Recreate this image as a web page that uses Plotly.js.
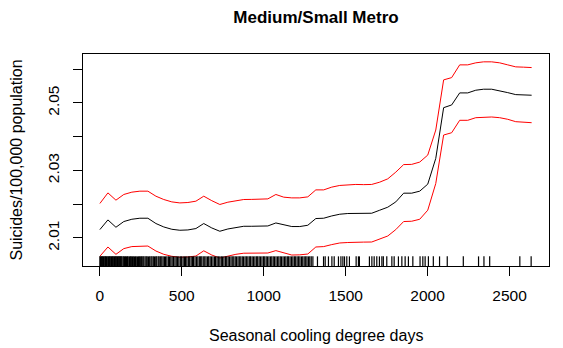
<!DOCTYPE html>
<html>
<head>
<meta charset="utf-8">
<script src="https://cdn.plot.ly/plotly-3.0.1.min.js"></script>
<style>html,body{margin:0;padding:0;background:#fff;}#chart{width:563px;height:348px;}</style>
</head>
<body>
<div id="chart"></div>
<script>
const cdd = [0, 49, 98, 146, 195, 244, 293, 342, 390, 439, 488, 537, 586, 634, 683, 732, 781, 830, 878, 927,
  976, 1025, 1074, 1122, 1171, 1220, 1269, 1318, 1366, 1415, 1464, 1513, 1562, 1610, 1659, 1708, 1757, 1806,
  1854, 1903, 1952, 2001, 2050, 2098, 2147, 2196, 2245, 2294, 2342, 2391, 2440, 2489, 2538, 2586, 2635];

const fit = [2.01249, 2.01535, 2.01318, 2.01487, 2.01555, 2.01585, 2.01585, 2.01428, 2.01327, 2.01258,
  2.01229, 2.01238, 2.01279, 2.01428, 2.01297, 2.01199, 2.01267, 2.01318, 2.01347, 2.01347,
  2.01356, 2.01356, 2.01445, 2.01386, 2.01339, 2.01339, 2.01377, 2.01576, 2.01585, 2.01653,
  2.01704, 2.01725, 2.01733, 2.01725, 2.01733, 2.01823, 2.01912, 2.02069, 2.02327, 2.02327,
  2.02387, 2.02595, 2.03358, 2.04860, 2.04941, 2.05297, 2.05297, 2.05377, 2.05407, 2.05407,
  2.05365, 2.05306, 2.05247, 2.05247, 2.05229];

const upper = [2.02022, 2.02336, 2.02120, 2.02289, 2.02357, 2.02387, 2.02387, 2.02238, 2.02140, 2.02069,
  2.02039, 2.02051, 2.02090, 2.02238, 2.02105, 2.01992, 2.02060, 2.02111, 2.02140, 2.02143,
  2.02152, 2.02158, 2.02289, 2.02209, 2.02188, 2.02188, 2.02218, 2.02425, 2.02425, 2.02506,
  2.02556, 2.02574, 2.02586, 2.02580, 2.02586, 2.02654, 2.02752, 2.02951, 2.03174, 2.03180,
  2.03248, 2.03456, 2.04198, 2.05683, 2.05751, 2.06128, 2.06128, 2.06188, 2.06218, 2.06218,
  2.06188, 2.06128, 2.06069, 2.06060, 2.06048];

const lower = [2.00457, 2.00733, 2.00516, 2.00685, 2.00745, 2.00762, 2.00762, 2.00614, 2.00516, 2.00457,
  2.00427, 2.00436, 2.00465, 2.00620, 2.00495, 2.00406, 2.00471, 2.00516, 2.00549, 2.00555,
  2.00555, 2.00555, 2.00626, 2.00560, 2.00495, 2.00501, 2.00525, 2.00733, 2.00745, 2.00804,
  2.00852, 2.00866, 2.00881, 2.00878, 2.00881, 2.00961, 2.01059, 2.01249, 2.01487, 2.01496,
  2.01555, 2.01823, 2.02615, 2.04050, 2.04118, 2.04486, 2.04486, 2.04563, 2.04584, 2.04584,
  2.04563, 2.04516, 2.04445, 2.04436, 2.04415];

const rugValues = [0, 4, 9, 13, 17, 22, 26, 31, 35, 40, 44, 49, 53, 58, 62, 67, 71, 76, 80, 85, 89, 94, 98,
  103, 107, 112, 116, 121, 125, 130, 134, 141, 146, 150, 157, 162, 168, 173, 181, 186, 192, 199, 204, 211,
  217, 222, 230, 236, 241, 249, 255, 262, 268, 276, 283, 289, 297, 304, 312, 318, 326, 333, 341, 347, 356,
  362, 371, 378, 386, 394, 401, 409, 418, 425, 433, 441, 449, 458, 466, 474, 482, 491, 499, 508, 516, 523,
  531, 540, 548, 557, 565, 572, 581, 590, 598, 607, 615, 622, 631, 640, 648, 657, 664, 673, 681, 690, 699,
  706, 715, 723, 732, 741, 748, 757, 766, 774, 783, 791, 800, 808, 817, 826, 834, 843, 851, 860, 869, 877,
  886, 894, 903, 912, 920, 929, 937, 946, 955, 963, 972, 980, 989, 998, 1006, 1015, 1023, 1032, 1041, 1049,
  1058, 1066, 1075, 1084, 1092, 1101, 1109, 1118, 1127, 1135, 1144, 1152, 1161, 1170, 1178, 1187, 1195,
  1204, 1213, 1221, 1230, 1238, 1247, 1256, 1264, 1273, 1281, 1290, 1300,
  1328, 1365, 1375, 1395, 1416, 1430, 1456, 1471, 1483, 1493, 1507, 1523, 1564, 1578, 1584, 1645, 1660,
  1674, 1690, 1706, 1721, 1730, 1751, 1782, 1796, 1822, 1843, 1863, 1883, 1910, 1954, 1971, 1985, 2005,
  2035, 2073, 2120, 2218, 2311, 2344, 2379, 2563, 2632];

const xTicks = [0, 500, 1000, 1500, 2000, 2500];
const yTicks = [2.01, 2.02, 2.03, 2.04, 2.05, 2.06];
const yTickText = ['2.01', '', '2.03', '', '2.05', ''];

const FONT = 'Liberation Sans, Arial, Helvetica, sans-serif';

const traces = [
  {x: cdd, y: upper, type: 'scatter', mode: 'lines', line: {color: '#FF0000', width: 1}, hoverinfo: 'skip'},
  {x: cdd, y: lower, type: 'scatter', mode: 'lines', line: {color: '#FF0000', width: 1}, hoverinfo: 'skip'},
  {x: cdd, y: fit, type: 'scatter', mode: 'lines', line: {color: '#000000', width: 1}, hoverinfo: 'skip'},
  {x: rugValues, y: rugValues.map(() => 0.019), yaxis: 'y2', type: 'scatter', mode: 'markers',
   marker: {symbol: 'line-ns-open', size: 8, color: '#000', line: {color: '#000', width: 1.2}}, hoverinfo: 'skip'}
];

const layout = {
  width: 563, height: 348,
  margin: {l: 83, r: 14, t: 54, b: 82, pad: 0},
  paper_bgcolor: '#fff', plot_bgcolor: '#fff',
  showlegend: false,
  font: {family: FONT, size: 15.5, color: '#000'},
  title: {text: '<b>Medium/Small Metro</b>', x: 0.5, xref: 'paper', y: 1 - 17/348, yanchor: 'middle',
          font: {family: FONT, size: 17, color: '#000'}},
  xaxis: {range: [-103, 2741], tickvals: xTicks, ticktext: xTicks.map(String), ticks: 'outside', ticklen: 9,
          tickwidth: 1, tickcolor: '#000', ticklabelstandoff: 6, showgrid: false, zeroline: false, showline: true,
          mirror: true, linecolor: '#000', linewidth: 1, tickfont: {family: FONT, size: 15.5, color: '#000'},
          fixedrange: true},
  yaxis: {range: [2.0017, 2.0645], tickvals: yTicks, ticktext: yTickText, ticks: 'outside', ticklen: 9,
          tickwidth: 1, tickcolor: '#000', tickangle: -90, ticklabelstandoff: 8, showgrid: false, zeroline: false,
          showline: true, mirror: true, linecolor: '#000', linewidth: 1,
          tickfont: {family: FONT, size: 15.5, color: '#000'}, fixedrange: true},
  yaxis2: {range: [0, 1], overlaying: 'y', visible: false, fixedrange: true},
  annotations: [
    {text: 'Seasonal cooling degree days', xref: 'paper', yref: 'paper', x: 0.5, y: (266 - 335) / 212,
     xanchor: 'center', yanchor: 'middle', showarrow: false, font: {family: FONT, size: 16, color: '#000'}},
    {text: 'Suicides/100,000 population', xref: 'paper', yref: 'paper', x: (15.5 - 83) / 466, y: 0.5,
     xanchor: 'center', yanchor: 'middle', textangle: -90, showarrow: false,
     font: {family: FONT, size: 16, color: '#000'}}
  ]
};

Plotly.newPlot('chart', traces, layout, {displayModeBar: false, staticPlot: true});
</script>
</body>
</html>
